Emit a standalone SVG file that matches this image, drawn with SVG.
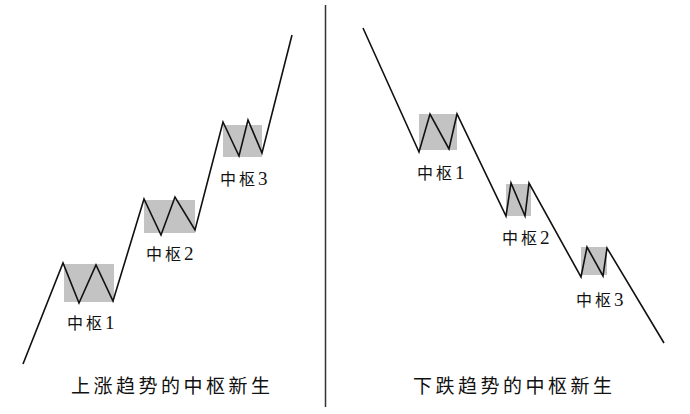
<svg xmlns="http://www.w3.org/2000/svg" width="690" height="414" viewBox="0 0 690 414">
<style>
.box{fill:#c3c3c3;stroke:none}
.ln{fill:none;stroke:#111;stroke-width:1.6;stroke-linejoin:miter;stroke-linecap:butt}
.lbl{font-family:"Liberation Serif","Noto Sans CJK SC",serif;font-size:16px;fill:#111;letter-spacing:3px}
.d{font-size:19px;letter-spacing:0}
.ttl{font-family:"Liberation Serif","Noto Sans CJK SC",serif;font-size:19px;fill:#111;letter-spacing:3.5px}
</style>
<rect width="690" height="414" fill="#fff"/>
<g id="divider"><line x1="325.5" y1="5" x2="325.5" y2="407" stroke="#333" stroke-width="1.5"/></g>

<g id="up-hub1"><rect class="box" x="64" y="264" width="50" height="38"/><text class="lbl" x="67" y="328.5">中枢<tspan class="d">1</tspan></text></g>
<g id="up-hub2"><rect class="box" x="144" y="200" width="51" height="33"/><text class="lbl" x="146" y="259.5">中枢<tspan class="d">2</tspan></text></g>
<g id="up-hub3"><rect class="box" x="223" y="125" width="39" height="32"/><text class="lbl" x="220" y="185">中枢<tspan class="d">3</tspan></text></g>

<g id="down-hub1"><rect class="box" x="419" y="114" width="38" height="36"/><text class="lbl" x="417" y="178.5">中枢<tspan class="d">1</tspan></text></g>
<g id="down-hub2"><rect class="box" x="506" y="184" width="25" height="32"/><text class="lbl" x="502" y="244">中枢<tspan class="d">2</tspan></text></g>
<g id="down-hub3"><rect class="box" x="581" y="247" width="26" height="28"/><text class="lbl" x="576" y="305.5">中枢<tspan class="d">3</tspan></text></g>

<g id="connectors">
<polyline class="ln" points="23,364 63,263 79,303 96,265 113,301 144,199 161,235 175,197 195,230 223,122 239,156 248,120 262,153 292,35"/>
<polyline class="ln" points="363,28 419,152 430,114 449,149 457,114 506,216 511,183 525,216 529,183 581,277 587,247 603,276 607,248 664,343"/>
</g>

<g id="title-up"><text class="ttl" x="71" y="393">上涨趋势的中枢新生</text></g>
<g id="title-down"><text class="ttl" x="413" y="393">下跌趋势的中枢新生</text></g>
</svg>
